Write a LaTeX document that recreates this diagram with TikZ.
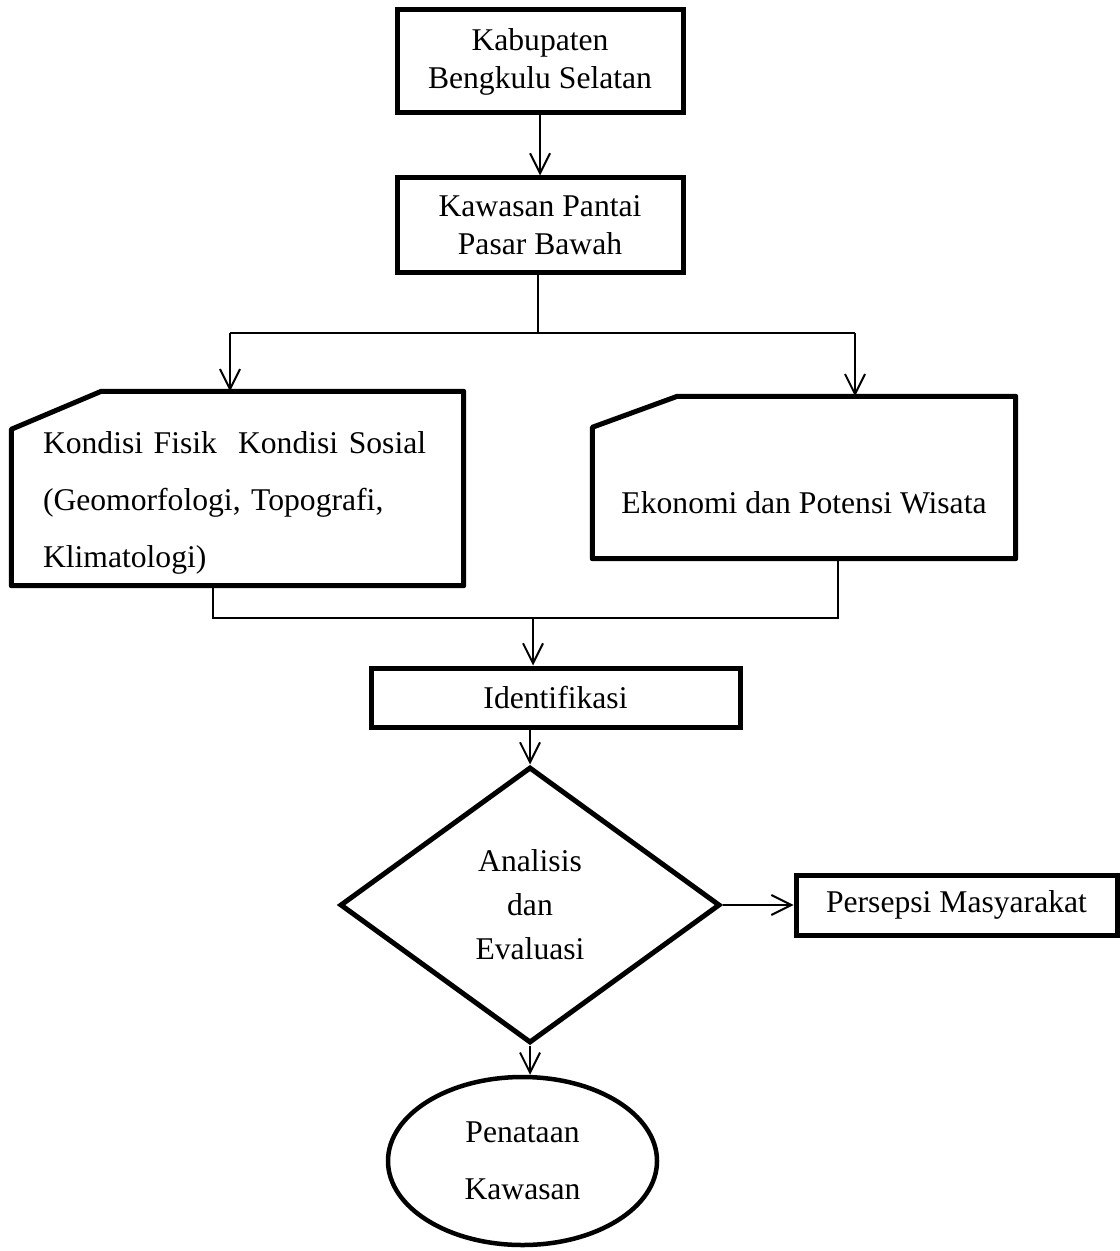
\documentclass[tikz,border=0pt]{standalone}
\usepackage{fontspec}
\setmainfont{Liberation Serif}
\usetikzlibrary{arrows.meta,shapes.geometric,calc}
\tikzset{
	box/.style={draw,line width=0.05cm,align=center,inner sep=0pt},
	cardbox/.style={draw=none,inner sep=0pt},
	cardline/.style={line width=0.05cm,line join=round},
	decision/.style={draw,diamond,aspect=1.38,line width=0.05cm,align=center,inner sep=0pt,
			minimum width=3.80cm,minimum height=2.76cm},
	terminal/.style={draw,ellipse,line width=0.045cm,align=center,inner sep=0pt,
			minimum width=2.69cm,minimum height=1.68cm},
	link/.style={line width=0.02cm},
	arr/.style={line width=0.02cm,-{Straight Barb[length=0.2cm,width=0.2cm]}}
}

\begin{document}
\begin{tikzpicture}[font=\fontsize{9}{10.8}\selectfont]
        \useasboundingbox (0,0) rectangle (11.19,-12.51);
        \node[box,minimum width=2.86cm,minimum height=1.03cm] (kab) at (5.40,-0.615) {Kabupaten\\Bengkulu Selatan};
        \node[box,minimum width=2.86cm,minimum height=0.95cm] (kaw) at (5.40,-2.255) {Kawasan Pantai\\Pasar Bawah};
        \node[cardbox,minimum width=4.51cm,minimum height=1.93cm] (fisikbox) at (2.375,-4.885) {};
        \draw[cardline] (fisikbox.south west) -- ($(fisikbox.north west)+(0,-0.38)$) -- ($(fisikbox.north west)+(0.90,0)$) -- (fisikbox.north east) -- (fisikbox.south east) -- cycle;
        \node[align=left,text width=3.9cm,inner sep=0pt,font=\fontsize{9}{16.2}\selectfont] (fisik) at (2.38,-5.03) {Kondisi Fisik\ \ Kondisi Sosial\\(Geomorfologi, Topografi,\\Klimatologi)};
        \node[cardbox,minimum width=4.22cm,minimum height=1.61cm] (ekobox) at (8.04,-4.775) {};
        \draw[cardline] (ekobox.south west) -- ($(ekobox.north west)+(0,-0.31)$) -- ($(ekobox.north west)+(0.85,0)$) -- (ekobox.north east) -- (ekobox.south east) -- cycle;
        \node[inner sep=0pt] (eko) at (8.04,-5.03) {Ekonomi dan Potensi Wisata};
        \node[box,minimum width=3.69cm,minimum height=0.59cm] (ident) at (5.555,-6.975) {Identifikasi};
        \node[decision,font=\fontsize{9}{12.5}\selectfont] (dia) at (5.30,-9.05) {Analisis\\dan\\Evaluasi};
        \node[box,minimum width=3.21cm,minimum height=0.60cm] (pers) at (9.565,-9.05) {Persepsi Masyarakat};
        \node[terminal,font=\fontsize{9}{16.2}\selectfont] (pen) at (5.225,-11.61) {Penataan\\Kawasan};
        \coordinate (split) at (5.38,-3.33);
        \coordinate (splitL) at (2.30,-3.33);
        \coordinate (splitR) at (8.55,-3.33);
        \coordinate (joinL) at (2.13,-6.18);
        \coordinate (joinR) at (8.38,-6.18);
        \coordinate (join) at (5.33,-6.18);
        \draw[arr] (kab) -- (kaw);
        \draw[link] (kaw.south -| split) -- (split);
        \draw[link] (splitL) -- (splitR);
        \draw[arr] (splitL) -- (splitL |- fisikbox.north);
        \draw[arr] (splitR) -- (splitR |- ekobox.north);
        \draw[link] (joinL |- fisikbox.south) -- (joinL) -- (joinR) -- (joinR |- ekobox.south);
        \draw[arr] (join) -- (join |- ident.north);
        \draw[arr] (ident.south -| dia.north) -- (dia.north);
        \draw[arr] (dia.east) -- (pers.west);
        \draw[arr] (dia.south) -- (dia.south |- pen.north);
    \end{tikzpicture}
\end{document}
